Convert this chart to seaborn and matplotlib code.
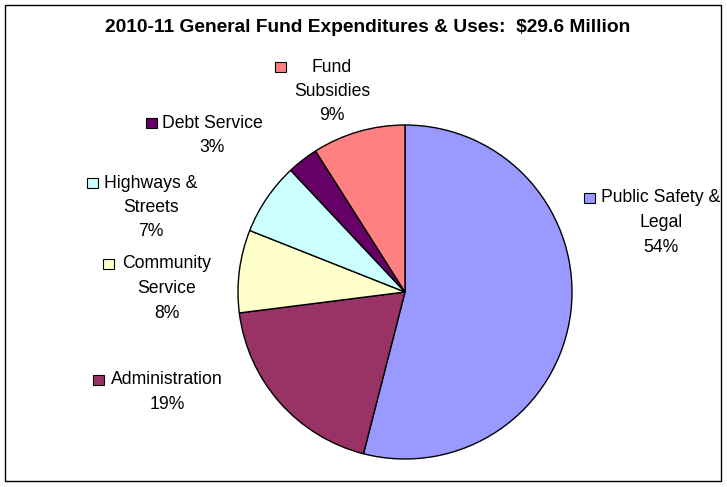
import matplotlib
matplotlib.use("Agg")
import matplotlib.pyplot as plt
from matplotlib.patches import Rectangle
import seaborn as sns

# Budget breakdown (percent of total general fund uses)
categories = ["Public Safety & Legal", "Administration", "Community Service",
              "Highways & Streets", "Debt Service", "Fund Subsidies"]
shares = [54, 19, 8, 7, 3, 9]
colors = ["#9999FF", "#993366", "#FFFFCC", "#CCFFFF", "#660066", "#FF8080"]
label_lines = [["Public Safety &", "Legal"], ["Administration"], ["Community", "Service"],
               ["Highways &", "Streets"], ["Debt Service"], ["Fund", "Subsidies"]]
title = "2010-11 General Fund Expenditures & Uses:  $29.6 Million"

W, H = 727, 487

sns.set_theme(style="white")
plt.rcParams["font.family"] = ["Liberation Sans", "DejaVu Sans"]

fig = plt.figure(figsize=(W / 100, H / 100), dpi=100)
fig.patch.set_facecolor("white")
ax = fig.add_axes([0, 0, 1, 1])

# pie geometry in pixel units (axes span the whole canvas)
cx, cy, r = 405, 292, 167
ax.pie(shares, colors=colors, startangle=90, counterclock=False,
       center=(cx, H - cy), radius=r, frame=True,
       wedgeprops=dict(edgecolor="black", linewidth=1.0))
ax.set_xlim(0, W)
ax.set_ylim(0, H)
ax.set_aspect("auto")
ax.axis("off")

# label layout: (key left x, first line y, text center x)
label_pos = [(584, 198, 661), (93, 380, 167), (103, 264, 167),
             (87, 183, 151), (146, 123, 212), (275, 67, 332)]
line_gap = 24.5
key = 10.5
fs = 12.7

for lines, share, col, (kx, ly, tx) in zip(label_lines, shares, colors, label_pos):
    texts = lines + [f"{share}%"]
    for i, t in enumerate(texts):
        ax.text(tx, H - (ly + i * line_gap), t, ha="center", va="center",
                fontsize=fs, color="black")
    ax.add_patch(Rectangle((kx, H - ly - key / 2), key, key, facecolor=col,
                           edgecolor="black", linewidth=0.8))

ax.text(368, H - 27, title, ha="center", va="center", fontsize=13.8,
        fontweight="bold", color="black")

# outer chart-area border
ax.add_patch(Rectangle((5, H - 481), 716, 476, fill=False, edgecolor="black",
                       linewidth=1.0))

fig.savefig("out.png", dpi=100, facecolor="white")
